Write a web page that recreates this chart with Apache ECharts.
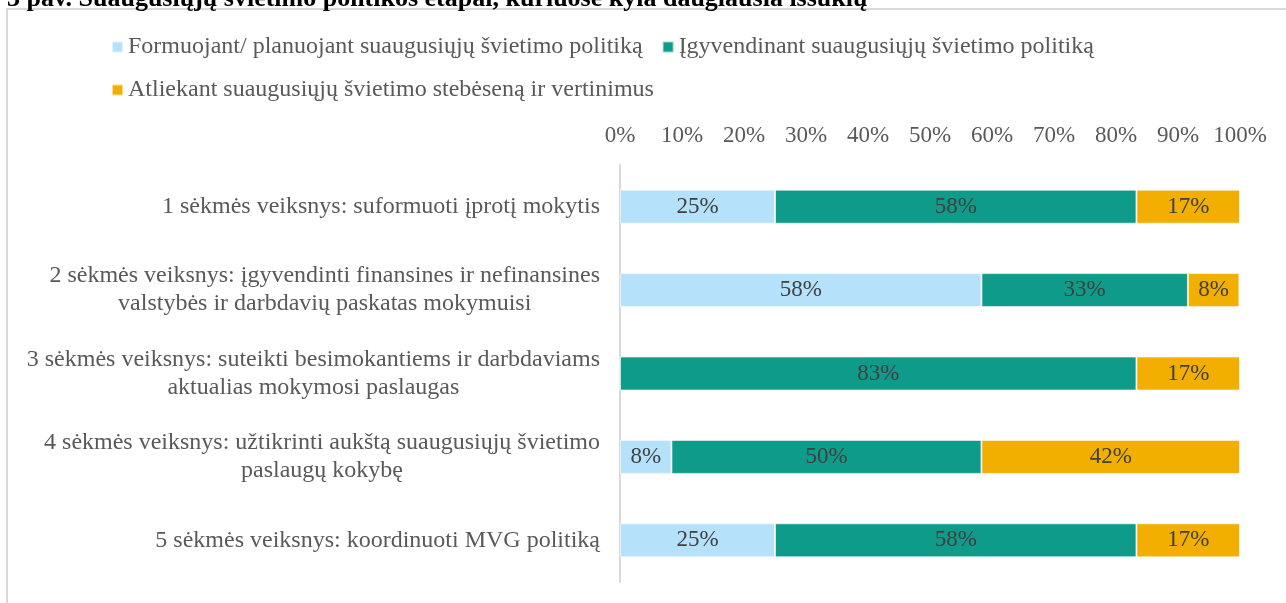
<!DOCTYPE html>
<html>
<head>
<meta charset="utf-8">
<script src="https://cdn.jsdelivr.net/npm/echarts@6/dist/echarts.min.js"></script>
<style>
  html, body { margin: 0; padding: 0; background: #fff; }
  #chart { width: 1286px; height: 603px; }
</style>
</head>
<body>
<div id="chart"></div>
<script>
// categories (top to bottom)
let categories = [
  '1 sėkmės veiksnys: suformuoti įprotį mokytis',
  '2 sėkmės veiksnys: įgyvendinti finansines ir nefinansines\nvalstybės ir darbdavių paskatas mokymuisi',
  '3 sėkmės veiksnys: suteikti besimokantiems ir darbdaviams\naktualias mokymosi paslaugas',
  '4 sėkmės veiksnys: užtikrinti aukštą suaugusiųjų švietimo\npaslaugų kokybę',
  '5 sėkmės veiksnys: koordinuoti MVG politiką'
];
let seriesNames = [
  'Formuojant/ planuojant suaugusiųjų švietimo politiką',
  'Įgyvendinant suaugusiųjų švietimo politiką',
  'Atliekant suaugusiųjų švietimo stebėseną ir vertinimus'
];
let planning = [25, 58.3, 0, 8.3, 25];
let implementing = [58.3, 33.3, 83.3, 50, 58.3];
let monitoring = [16.7, 8.3, 16.7, 41.7, 16.7];
let colors = ['#B5E2FA', '#0E9B8A', '#F2AF00'];

const font = '"Liberation Serif", "Times New Roman", serif';
var myChart = echarts.init(document.getElementById('chart'));

function makeSeries(name, data, color) {
  return {
    name: name,
    type: 'bar',
    stack: 'total',
    barWidth: 34,
    data: data,
    itemStyle: { color: color, borderColor: 'rgba(255,255,255,0.6)', borderWidth: 1 },
    label: {
      show: true,
      position: 'inside',
      fontFamily: font,
      fontSize: 23,
      color: '#404040',
      formatter: function (p) {
        return p.value > 0 ? Math.round(p.value) + '%' : '';
      }
    }
  };
}

var option = {
  animation: false,
  title: {
    text: '3 pav. Suaugusiųjų švietimo politikos etapai, kuriuose kyla daugiausia iššūkių',
    left: 2,
    top: -19,
    textStyle: { fontFamily: font, fontSize: 26, fontWeight: 'bold', color: '#000' }
  },
  graphic: [{
    type: 'rect',
    shape: { x: 7, y: 9, width: 1400, height: 800 },
    style: { fill: 'none', stroke: '#D9D9D9', lineWidth: 2 },
    silent: true
  }],
  legend: {
    left: 106,
    top: 30,
    width: 1100,
    itemWidth: 11,
    itemHeight: 11,
    itemGap: 19,
    icon: 'rect',
    data: seriesNames,
    textStyle: { fontFamily: font, fontSize: 24, color: '#595959' }
  },
  grid: { left: 620, right: 46, top: 165, bottom: 21 },
  xAxis: {
    type: 'value',
    position: 'top',
    min: 0,
    max: 100,
    interval: 10,
    axisLine: { show: false },
    axisTick: { show: false },
    splitLine: { show: false },
    axisLabel: {
      margin: 18,
      fontFamily: font,
      fontSize: 23,
      color: '#595959',
      formatter: '{value}%'
    }
  },
  yAxis: {
    type: 'category',
    inverse: true,
    data: categories,
    axisLine: { show: true, lineStyle: { color: '#D9D9D9', width: 2 } },
    axisTick: { show: false },
    axisLabel: {
      margin: 20,
      fontFamily: font,
      fontSize: 24,
      color: '#595959',
      align: 'right',
      formatter: function (v) {
        return v.split('\n').map(function (l) { return '{c|' + l + '}'; }).join('\n');
      },
      rich: {
        c: { align: 'center', fontFamily: font, fontSize: 24, color: '#595959', lineHeight: 28 }
      }
    }
  },
  series: [
    makeSeries(seriesNames[0], planning, colors[0]),
    makeSeries(seriesNames[1], implementing, colors[1]),
    makeSeries(seriesNames[2], monitoring, colors[2])
  ]
};

myChart.setOption(option);
</script>
</body>
</html>
